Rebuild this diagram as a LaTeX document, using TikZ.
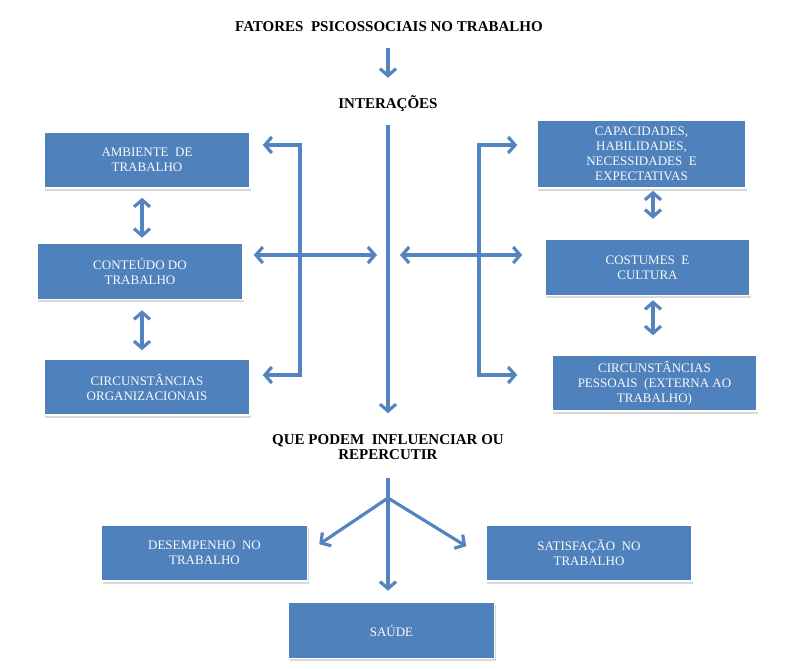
\documentclass[tikz,border=0pt]{standalone}
\usepackage{fontspec}
\setmainfont{Liberation Serif}
\usetikzlibrary{positioning,arrows.meta,shadows}

\definecolor{azul}{RGB}{79,129,189}
\definecolor{azulseta}{RGB}{84,132,192}

\tikzset{
  caixa/.style={rectangle, fill=azul, draw=white, line width=1.5pt,
    minimum width=206pt, minimum height=56pt, align=center, text=white!95!gray,
    font=\fontsize{13}{15}\selectfont,
    drop shadow={opacity=.3, shadow xshift=1pt, shadow yshift=-2.5pt}},
  % texto no alto da caixa
  caixa2/.style={caixa, execute at end node={\\[-3pt]\mbox{}}},
  rotulo/.style={align=center, inner sep=0pt, font=\bfseries\fontsize{15}{15}\selectfont},
  seta/.style={draw=azulseta, line width=3.2pt, -{Straight Barb[length=7pt,width=16pt]}},
  dupla/.style={seta, {Straight Barb[length=7pt,width=16pt]}-{Straight Barb[length=7pt,width=16pt]}}
}

\begin{document}
\begin{tikzpicture}[x=1pt,y=-1pt]
  \useasboundingbox (0,0) rectangle (812,669);

  \node[rotulo, text height=10pt, text depth=0pt] (titulo) at (389,27) {FATORES~ PSICOSSOCIAIS NO TRABALHO};
  \node[rotulo, text height=10pt, text depth=0pt] (interacoes) at (388,103) {INTERAÇÕES};

  % lado esquerdo
  \node[caixa2] (amb) at (147,160) {AMBIENTE~ DE\\TRABALHO};
  \node[caixa2] (conteudo) [below=54pt of amb, xshift=-7pt] {CONTEÚDO DO\\TRABALHO};
  \node[caixa2] (circ) [below=58pt of conteudo, xshift=7pt] {CIRCUNSTÂNCIAS\\ORGANIZACIONAIS};

  % lado direito
  \node[caixa, minimum width=209pt, minimum height=68pt] (capac) at (641.5,154) {CAPACIDADES,\\HABILIDADES,\\NECESSIDADES~ E\\EXPECTATIVAS};
  \node[caixa2, minimum width=205pt] (costumes) [below=50pt of capac, xshift=6pt] {COSTUMES~ E\\CULTURA};
  \node[caixa, minimum width=205pt] (pessoais) [below=58pt of costumes, xshift=7pt] {CIRCUNSTÂNCIAS\\PESSOAIS~ (EXTERNA AO\\TRABALHO)};

  \node[rotulo] (que) at (388,447) {QUE PODEM~ INFLUENCIAR OU\\REPERCUTIR};

  \node[caixa2] (desemp) at (204.5,553) {DESEMPENHO~ NO\\TRABALHO};
  \node[caixa2] (satisf) [right=177pt of desemp] {SATISFAÇÃO~ NO\\TRABALHO};
  \node[caixa] (saude) at (391.5,630.5) {SAÚDE};

  \coordinate (meio) at (388,255);
  \coordinate (esqA) at (300,145);
  \coordinate (esqB) at (300,375);
  \coordinate (dirA) at (479,145);
  \coordinate (dirB) at (479,375);
  \coordinate (ramo) at (388,498);

  \draw[seta, shorten <=16pt, shorten >=20pt] (interacoes.north |- titulo.south) -- (interacoes.north);
  \draw[seta, shorten <=17pt, shorten >=21pt] (interacoes.south) -- (que.north);

  % chaves
  \draw[dupla, shorten <=12pt, shorten >=12pt] (esqA -| amb.east) -- (esqA) -- (esqB) -- (esqB -| circ.east);
  \draw[dupla, shorten <=19pt, shorten >=34pt] (capac.west |- dirA) -- (dirA) -- (dirB) -- (pessoais.west |- dirB);
  \draw[dupla, shorten <=10pt, shorten >=11pt] (conteudo.east |- meio) -- (meio);
  \draw[dupla, shorten <=12pt, shorten >=22pt] (meio) -- (costumes.west |- meio);

  % entre caixas
  \draw[dupla, shorten <=9pt, shorten >=5pt] ([xshift=-5pt]amb.south) -- ([xshift=-5pt]amb.south |- conteudo.north);
  \draw[dupla, shorten <=10pt, shorten >=8pt] ([xshift=2pt]conteudo.south) -- ([xshift=2pt]conteudo.south |- circ.north);
  \draw[dupla, shorten <=2pt, shorten >=20pt] ([xshift=11.5pt]capac.south) -- ([xshift=11.5pt]capac.south |- costumes.north);
  \draw[dupla, shorten <=4pt, shorten >=19pt] ([xshift=5.5pt]costumes.south) -- ([xshift=5.5pt]costumes.south |- pessoais.north);

  % repercussao
  \draw[seta, -, shorten <=18pt] (que.south) -- (ramo);
  \draw[seta] (ramo) -- ([xshift=11pt, yshift=-20pt]desemp.north east);
  \draw[seta] (ramo) -- ([xshift=-19pt, yshift=-22pt]satisf.north west);
  \draw[seta, shorten >=11pt] (ramo) -- (ramo |- saude.north);
\end{tikzpicture}
\end{document}
